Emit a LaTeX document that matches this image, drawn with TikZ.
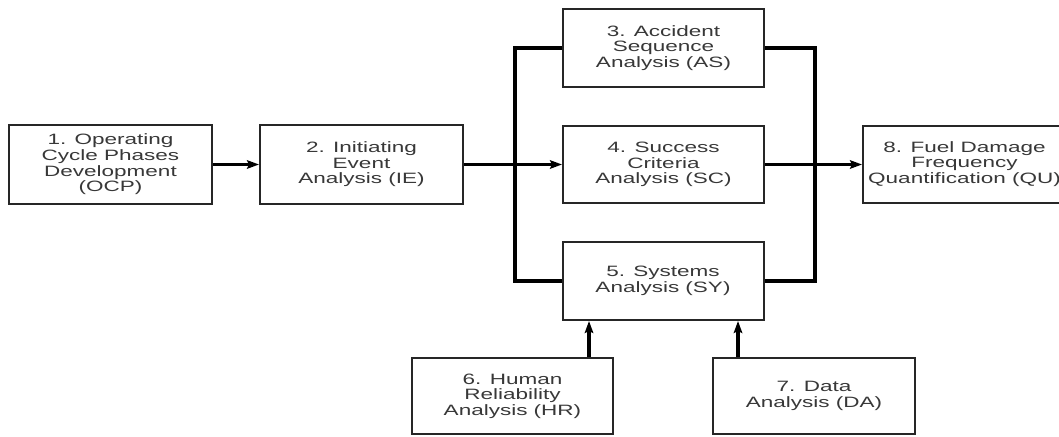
\documentclass[tikz,border=0pt]{standalone}
\usepackage{fontspec}
\setmainfont{Liberation Sans}[FakeStretch=1.5]
\usetikzlibrary{arrows.meta}
\begin{document}
\begin{tikzpicture}[x=1pt,y=-1pt,
  box/.style={draw=black!85,line width=2pt,fill=white,minimum width=201pt,minimum height=78pt,
    align=center,inner sep=0pt,font=\fontsize{15}{15.6}\selectfont,text=black!78},
  arr/.style={line width=2.4pt,-{Stealth[length=12pt,width=8.5pt,inset=2pt]}},
  bus/.style={line width=3.2pt,line join=miter}]
\useasboundingbox (0,0) rectangle (1059,436);
\node[box,minimum width=203pt,minimum height=79pt] (b1) at (110.5,164.5) {1. Operating\\Cycle Phases\\Development\\(OCP)};
\node[box,minimum width=203pt,minimum height=79pt] (b2) at (361.5,164.5) {2. Initiating\\Event\\Analysis (IE)};
\node[box] (b3) at (663.5,48) {3. Accident\\Sequence\\Analysis (AS)};
\node[box,minimum height=77pt] (b4) at (663.5,164.5) {4. Success\\Criteria\\Analysis (SC)};
\node[box] (b5) at (663,281) {5. Systems\\Analysis (SY)};
\node[box,minimum width=233pt,minimum height=77pt] (b8) at (979.5,164.5) {\begin{tabular}{@{}c@{}}8. Fuel Damage\\Frequency\\Quantification (QU)\end{tabular}\hspace*{30pt}};
\node[box,minimum height=76pt] (b6) at (512.5,396) {6. Human\\Reliability\\Analysis (HR)};
\node[box,minimum width=202pt,minimum height=76pt] (b7) at (814,396) {7. Data\\Analysis (DA)};
\coordinate (lb) at (515,164.5);
\coordinate (rb) at (815,164.5);
\coordinate (a6) at (589,0);
\coordinate (a7) at (738,0);
\draw[arr] (b1.east) -- (b2.west);
\draw[arr] (b2.east) -- (b4.west);
\draw[arr] (b4.east) -- (b8.west);
\draw[bus] (b3.west) -| (lb) |- (b5.west);
\draw[bus] (b3.east) -| (rb) |- (b5.east);
\draw[arr,line width=3.2pt] (b6.north -| a6) -- (b5.south -| a6);
\draw[arr,line width=3.2pt] (b7.north -| a7) -- (b5.south -| a7);
\end{tikzpicture}
\end{document}
